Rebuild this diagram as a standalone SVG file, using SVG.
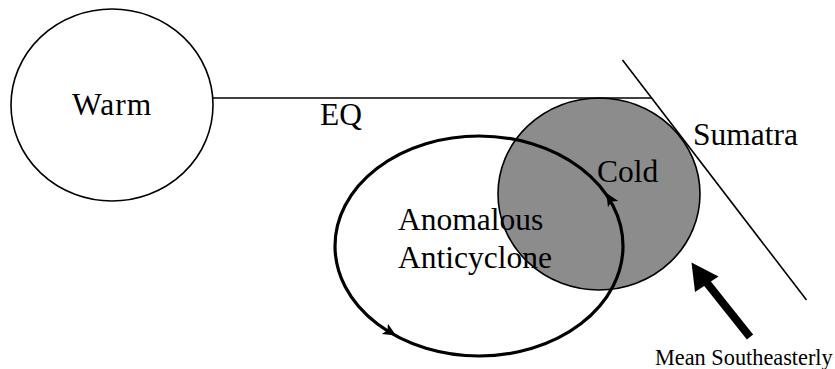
<svg xmlns="http://www.w3.org/2000/svg" width="835" height="369" viewBox="0 0 835 369">
<style>
text{font-family:"Liberation Serif","Times New Roman",serif;fill:#000}
.big{font-size:31.5px}
.small{font-size:22.3px}
.thin{fill:none;stroke:#000;stroke-width:1.6}
.thick{fill:none;stroke:#000;stroke-width:3.2}
.head{fill:#000;stroke:none}
</style>
<rect width="835" height="369" fill="#fff"/>
<g id="cold">
<ellipse cx="599" cy="194" rx="101" ry="96" fill="#8c8c8c" stroke="#000" stroke-width="1.6"/>
</g>
<g id="warm">
<ellipse class="thin" cx="112" cy="105" rx="101" ry="96"/>
<text class="big" x="72" y="115" letter-spacing="1">Warm</text>
</g>
<g id="connectors">
<line class="thin" x1="212" y1="98" x2="652" y2="98"/>
<line class="thin" x1="622.5" y1="60" x2="806.5" y2="300"/>
<g id="anticyclone-loop">
<ellipse class="thick" cx="479" cy="246" rx="144" ry="110"/>
<path class="head" d="M7 0 L-6 -6 L-3 0 L-6 6 Z" transform="translate(610 199) rotate(-121)"/>
<path class="head" d="M7 0 L-6 -6 L-3 0 L-6 6 Z" transform="translate(390 332) rotate(31)"/>
</g>
<g id="mean-southeasterly-arrow">
<line x1="750" y1="337" x2="703" y2="278" stroke="#000" stroke-width="8"/>
<polygon class="head" points="691.5,262.5 695,292 718.5,276.5"/>
</g>
</g>
<g id="labels">
<text class="big" x="320" y="125">EQ</text>
<text class="big" x="597" y="182">Cold</text>
<text class="big" x="693" y="145">Sumatra</text>
<text class="big" x="398" y="230">Anomalous</text>
<text class="big" x="398" y="268">Anticyclone</text>
<text class="small" x="655" y="365">Mean Southeasterly</text>
</g>
</svg>
